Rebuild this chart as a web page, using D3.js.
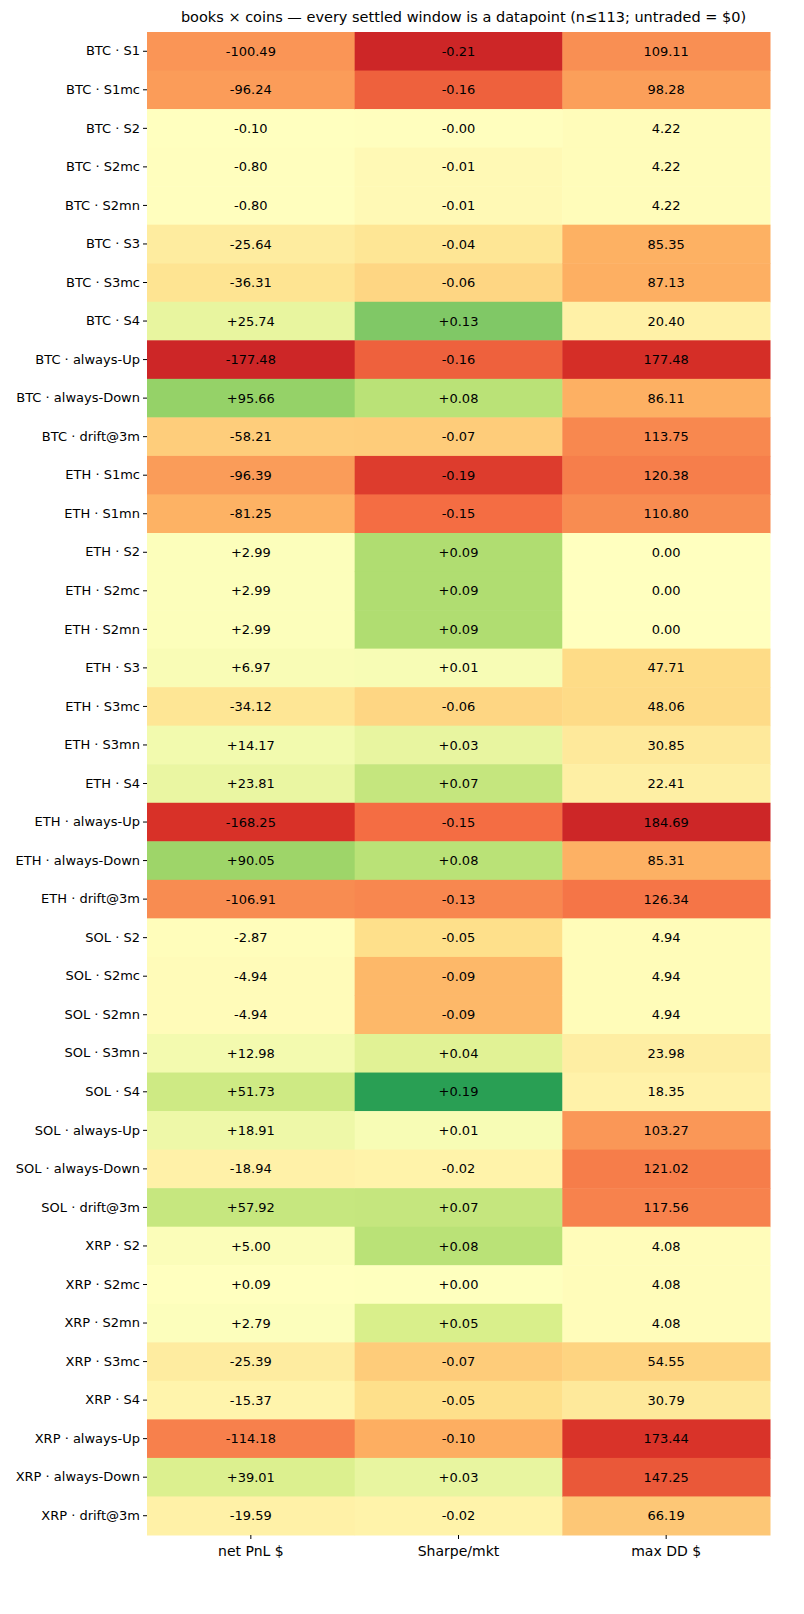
<!DOCTYPE html>
<html><head><meta charset="utf-8">
<script src="https://cdn.jsdelivr.net/npm/d3@7"></script>
<style>html,body{margin:0;background:#fff;overflow:hidden}svg{display:block}</style></head>
<body><svg id="c" width="804" height="1614"></svg>
<script>
const rows=["BTC · S1","BTC · S1mc","BTC · S2","BTC · S2mc","BTC · S2mn","BTC · S3","BTC · S3mc","BTC · S4","BTC · always-Up","BTC · always-Down","BTC · drift@3m","ETH · S1mc","ETH · S1mn","ETH · S2","ETH · S2mc","ETH · S2mn","ETH · S3","ETH · S3mc","ETH · S3mn","ETH · S4","ETH · always-Up","ETH · always-Down","ETH · drift@3m","SOL · S2","SOL · S2mc","SOL · S2mn","SOL · S3mn","SOL · S4","SOL · always-Up","SOL · always-Down","SOL · drift@3m","XRP · S2","XRP · S2mc","XRP · S2mn","XRP · S3mc","XRP · S4","XRP · always-Up","XRP · always-Down","XRP · drift@3m"];
const columns=["net PnL $","Sharpe/mkt","max DD $"];
const pnl=[-100.49,-96.24,-0.10,-0.80,-0.80,-25.64,-36.31,25.74,-177.48,95.66,-58.21,-96.39,-81.25,2.99,2.99,2.99,6.97,-34.12,14.17,23.81,-168.25,90.05,-106.91,-2.87,-4.94,-4.94,12.98,51.73,18.91,-18.94,57.92,5.00,0.09,2.79,-25.39,-15.37,-114.18,39.01,-19.59];
const sharpe=[-0.21,-0.16,-0.001,-0.01,-0.01,-0.04,-0.06,0.13,-0.16,0.08,-0.07,-0.19,-0.15,0.09,0.09,0.09,0.01,-0.06,0.03,0.07,-0.15,0.08,-0.13,-0.05,-0.09,-0.09,0.04,0.19,0.01,-0.02,0.07,0.08,0.001,0.05,-0.07,-0.05,-0.10,0.03,-0.02];
const maxdd=[109.11,98.28,4.22,4.22,4.22,85.35,87.13,20.40,177.48,86.11,113.75,120.38,110.80,0,0,0,47.71,48.06,30.85,22.41,184.69,85.31,126.34,4.94,4.94,4.94,23.98,18.35,103.27,121.02,117.56,4.08,4.08,4.08,54.55,30.79,173.44,147.25,66.19];
const title="books × coins — every settled window is a datapoint (n≤113; untraded = $0)";
const rdylgn=["#a50026","#d73027","#f46d43","#fdae61","#fee08b","#ffffbf","#d9ef8b","#a6d96a","#66bd63","#1a9850","#006837"];
const cmap=d3.scaleLinear().domain(d3.range(11).map(i=>i/10)).range(rdylgn).interpolate(d3.interpolateRgb).clamp(true);
const svg=d3.select("#c");
const L=147,R=770,T=32,B=1535;
const x=d3.scaleBand().domain(columns).range([L,R]);
const y=d3.scaleBand().domain(rows).range([T,B]);
const series=[pnl,sharpe,maxdd];
const fmt=[v=>(v>=0?"+":"-")+Math.abs(v).toFixed(2),v=>(v>=0?"+":"-")+Math.abs(v).toFixed(2),v=>v.toFixed(2)];
const col=[];
series.forEach((s,ci)=>{
  const m=d3.max(s,v=>Math.abs(v));
  const sc=ci===2?(v=>cmap(0.5-0.42*v/m)):(v=>cmap(0.5+0.42*v/m));
  s.forEach((v,ri)=>col.push({c:columns[ci],r:rows[ri],v,color:sc(v),t:fmt[ci](v)}));
});
svg.selectAll("rect").data(col).join("rect").attr("x",d=>x(d.c)).attr("y",d=>y(d.r))
 .attr("width",x.bandwidth()+0.5).attr("height",y.bandwidth()+0.5).attr("fill",d=>d.color);
svg.selectAll("text.v").data(col).join("text").attr("class","v").attr("x",d=>x(d.c)+x.bandwidth()/2)
 .attr("y",d=>y(d.r)+y.bandwidth()/2).attr("dy","0.35em").attr("text-anchor","middle")
 .attr("font-family","DejaVu Sans").attr("font-size",13).text(d=>d.t);
const ya=svg.append("g").attr("transform",`translate(${L},0)`).call(d3.axisLeft(y).tickSize(4));
ya.select(".domain").remove();
ya.selectAll("text").attr("font-family","DejaVu Sans").attr("font-size",13).attr("fill","#000");
const xa=svg.append("g").attr("transform",`translate(0,${B})`).call(d3.axisBottom(x).tickSize(4));
xa.select(".domain").remove();
xa.selectAll("text").attr("font-family","DejaVu Sans").attr("font-size",14).attr("fill","#000").attr("dy","1em");
svg.append("text").attr("x",(L+R)/2+5).attr("y",22).attr("text-anchor","middle")
 .attr("font-family","DejaVu Sans").attr("font-size",14.5).text(title);
</script></body></html>
